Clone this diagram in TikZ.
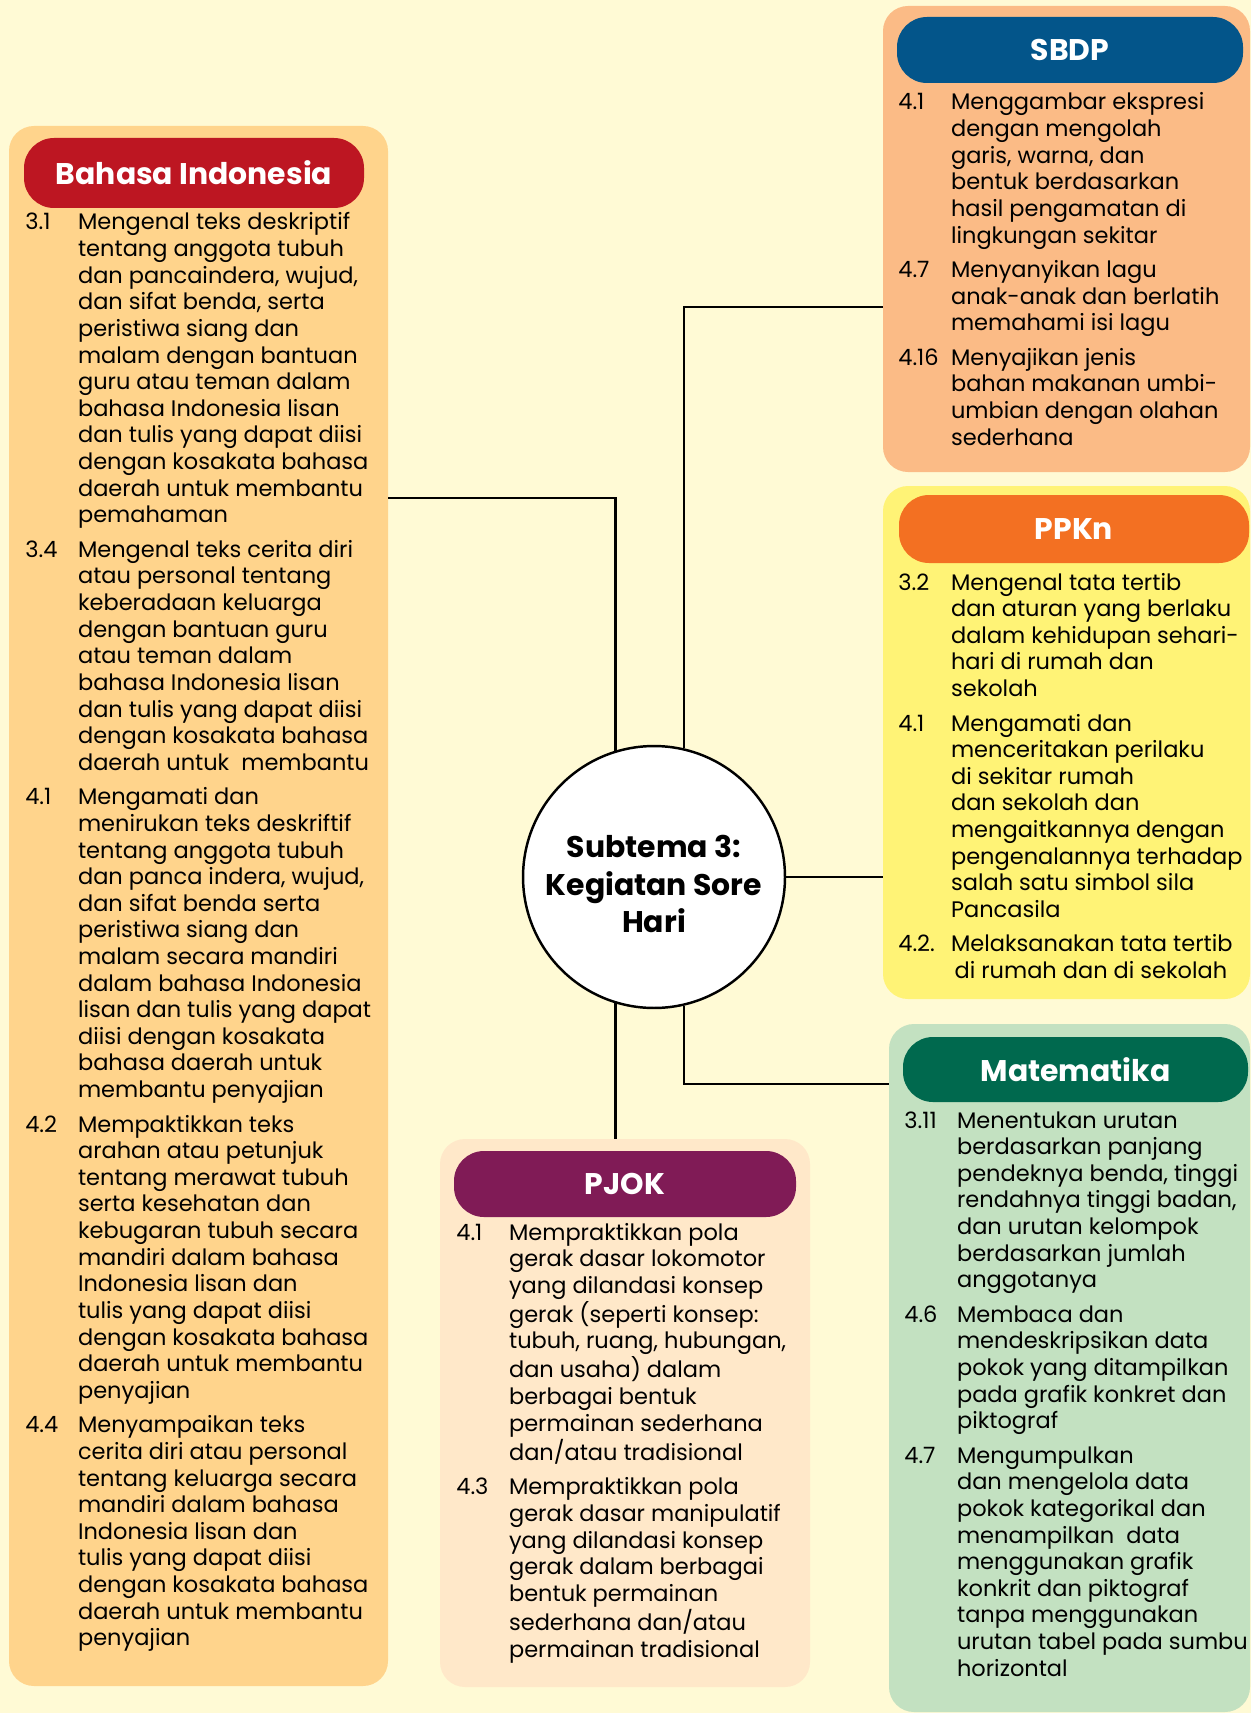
\documentclass[tikz,border=0pt]{standalone}
\usepackage{fontspec}
\setmainfont{Poppins}
\usepackage{array}
\usetikzlibrary{fit,positioning}

\definecolor{bgcol}{HTML}{FFFAD5}
\definecolor{bifill}{HTML}{FFD48C}
\definecolor{bihead}{HTML}{BD1622}
\definecolor{sbdpfill}{HTML}{FBBB86}
\definecolor{sbdphead}{HTML}{03558A}
\definecolor{ppknfill}{HTML}{FFF376}
\definecolor{ppknhead}{HTML}{F37022}
\definecolor{matfill}{HTML}{C3E1C1}
\definecolor{mathead}{HTML}{00694E}
\definecolor{pjokfill}{HTML}{FFE8C9}
\definecolor{pjokhead}{HTML}{801B56}

\tikzset{
  panel/.style={rounded corners=0.5cm, inner sep=0pt},
  head/.style={rounded corners=0.6cm, inner sep=0pt},
  headtxt/.style={inner sep=0pt, text=white, font=\fontsize{17}{20}\selectfont\bfseries},
  kdtext/.style={inner sep=0pt, anchor=base west, font=\fontsize{12.8}{15.15}\selectfont},
  link/.style={line width=1.4pt}
}

\begin{document}
\begin{tikzpicture}[x=0.02cm,y=-0.02cm]
\fill[bgcol] (0,0) rectangle (1251,1713);
\useasboundingbox (0,0) rectangle (1251,1713);

% panels
\node (bi) [panel, fill=bifill, fit={(9,126) (388,1686)}] {};
\node (sbdp) [panel, fill=sbdpfill, fit={(883,6) (1250,472)}] {};
\node (ppkn) [panel, fill=ppknfill, fit={(883,486) (1250,999)}] {};
\node (mat) [panel, fill=matfill, fit={(889,1024) (1250,1712)}] {};
\node (pjok) [panel, fill=pjokfill, fit={(440,1139) (810,1687)}] {};

% headers
\node (bih) [head, fill=bihead, fit={(24,138) (364,208)}] {};
\node (sbdph) [head, fill=sbdphead, fit={(897,17) (1243,83)}] {};
\node (ppknh) [head, fill=ppknhead, fit={(899,495) (1249,563)}] {};
\node (math) [head, fill=mathead, fit={(903,1037) (1248,1102)}] {};
\node (pjokh) [head, fill=pjokhead, fit={(454,1151) (796,1217)}] {};
\node (bihtxt) [headtxt] at (bih) {Bahasa Indonesia};
\node (sbdphtxt) [headtxt] at (sbdph) {SBDP};
\node (ppknhtxt) [headtxt] at (ppknh) {PPKn};
\node (mathtxt) [headtxt] at (math) {Matematika};
\node (pjokhtxt) [headtxt] at (pjokh) {PJOK};

% centre
\node (ctr) [circle, draw, line width=1.4pt, fill=white, minimum size=5.24cm, inner sep=0pt] at (654,877) {};
\node (ctrtxt) [align=center, inner sep=0pt, font=\fontsize{17}{21.5}\selectfont\bfseries] at (654,884)
  {Subtema 3:\\Kegiatan Sore\\Hari};

% texts
\node (bitxt) [kdtext] at (25,230) {\begin{tabular}[t]{@{}p{30pt}@{}l@{}}
3.1 & Mengenal teks deskriptif\\
 & tentang anggota tubuh\\
 & dan pancaindera, wujud,\\
 & dan sifat benda, serta\\
 & peristiwa siang dan\\
 & malam dengan bantuan\\
 & guru atau teman dalam\\
 & bahasa Indonesia lisan\\
 & dan tulis yang dapat diisi\\
 & dengan kosakata bahasa\\
 & daerah untuk membantu\\
 & pemahaman\\[4.5pt]
3.4 & Mengenal teks cerita diri\\
 & atau personal tentang\\
 & keberadaan keluarga\\
 & dengan bantuan guru\\
 & atau teman dalam\\
 & bahasa Indonesia lisan\\
 & dan tulis yang dapat diisi\\
 & dengan kosakata bahasa\\
 & daerah untuk\ \ membantu\\[4.5pt]
4.1 & Mengamati dan\\
 & menirukan teks deskriftif\\
 & tentang anggota tubuh\\
 & dan panca indera, wujud,\\
 & dan sifat benda serta\\
 & peristiwa siang dan\\
 & malam secara mandiri\\
 & dalam bahasa Indonesia\\
 & lisan dan tulis yang dapat\\
 & diisi dengan kosakata\\
 & bahasa daerah untuk\\
 & membantu penyajian\\[4.5pt]
4.2 & Mempaktikkan teks\\
 & arahan atau petunjuk\\
 & tentang merawat tubuh\\
 & serta kesehatan dan\\
 & kebugaran tubuh secara\\
 & mandiri dalam bahasa\\
 & Indonesia lisan dan\\
 & tulis yang dapat diisi\\
 & dengan kosakata bahasa\\
 & daerah untuk membantu\\
 & penyajian\\[4.5pt]
4.4 & Menyampaikan teks\\
 & cerita diri atau personal\\
 & tentang keluarga secara\\
 & mandiri dalam bahasa\\
 & Indonesia lisan dan\\
 & tulis yang dapat diisi\\
 & dengan kosakata bahasa\\
 & daerah untuk membantu\\
 & penyajian
\end{tabular}};

\node (sbdptxt) [kdtext] at (898,110) {\begin{tabular}[t]{@{}p{30pt}@{}l@{}}
4.1 & Menggambar ekspresi\\
 & dengan mengolah\\
 & garis, warna, dan\\
 & bentuk berdasarkan\\
 & hasil pengamatan di\\
 & lingkungan sekitar\\[4.5pt]
4.7 & Menyanyikan lagu\\
 & anak-anak dan berlatih\\
 & memahami isi lagu\\[4.5pt]
4.16 & Menyajikan jenis\\
 & bahan makanan umbi-\\
 & umbian dengan olahan\\
 & sederhana
\end{tabular}};

\node (ppkntxt) [kdtext] at (898,590) {\begin{tabular}[t]{@{}p{30pt}@{}l@{}}
3.2 & Mengenal tata tertib\\
 & dan aturan yang berlaku\\
 & dalam kehidupan sehari-\\
 & hari di rumah dan\\
 & sekolah\\[4.5pt]
4.1 & Mengamati dan\\
 & menceritakan perilaku\\
 & di sekitar rumah\\
 & dan sekolah dan\\
 & mengaitkannya dengan\\
 & pengenalannya terhadap\\
 & salah satu simbol sila\\
 & Pancasila\\[4.5pt]
4.2. & Melaksanakan tata tertib\\
 & \hspace{2pt}di rumah dan di sekolah
\end{tabular}};

\node (mattxt) [kdtext] at (904,1128) {\begin{tabular}[t]{@{}p{30pt}@{}l@{}}
3.11 & Menentukan urutan\\
 & berdasarkan panjang\\
 & pendeknya benda, tinggi\\
 & rendahnya tinggi badan,\\
 & dan urutan kelompok\\
 & berdasarkan jumlah\\
 & anggotanya\\[4.5pt]
4.6 & Membaca dan\\
 & mendeskripsikan data\\
 & pokok yang ditampilkan\\
 & pada grafik konkret dan\\
 & piktograf\\[4.5pt]
4.7 & Mengumpulkan\\
 & dan mengelola data\\
 & pokok kategorikal dan\\
 & menampilkan\ \ data\\
 & menggunakan grafik\\
 & konkrit dan piktograf\\
 & tanpa menggunakan\\
 & urutan tabel pada sumbu\\
 & horizontal
\end{tabular}};

\node (pjoktxt) [kdtext] at (456,1240) {\begin{tabular}[t]{@{}p{30pt}@{}l@{}}
4.1 & Mempraktikkan pola\\
 & gerak dasar lokomotor\\
 & yang dilandasi konsep\\
 & gerak (seperti konsep:\\
 & tubuh, ruang, hubungan,\\
 & dan usaha) dalam\\
 & berbagai bentuk\\
 & permainan sederhana\\
 & dan/atau tradisional\\[4.5pt]
4.3 & Mempraktikkan pola\\
 & gerak dasar manipulatif\\
 & yang dilandasi konsep\\
 & gerak dalam berbagai\\
 & bentuk permainan\\
 & sederhana dan/atau\\
 & permainan tradisional
\end{tabular}};

% links
\coordinate (bilink) at (bi.east |- 0,498);
\coordinate (sbdplink) at (sbdp.west |- 0,307);
\coordinate (matlink) at (mat.west |- 0,1084);
\draw[link] (ctr.107) |- (bilink);
\draw[link] (ctr.77) |- (sbdplink);
\draw[link] (ctr.east) -- (ctr.east -| ppkn.west);
\draw[link] (ctr.-77) |- (matlink);
\draw[link] (ctr.-107) -- (ctr.-107 |- pjok.north);
\end{tikzpicture}
\end{document}
